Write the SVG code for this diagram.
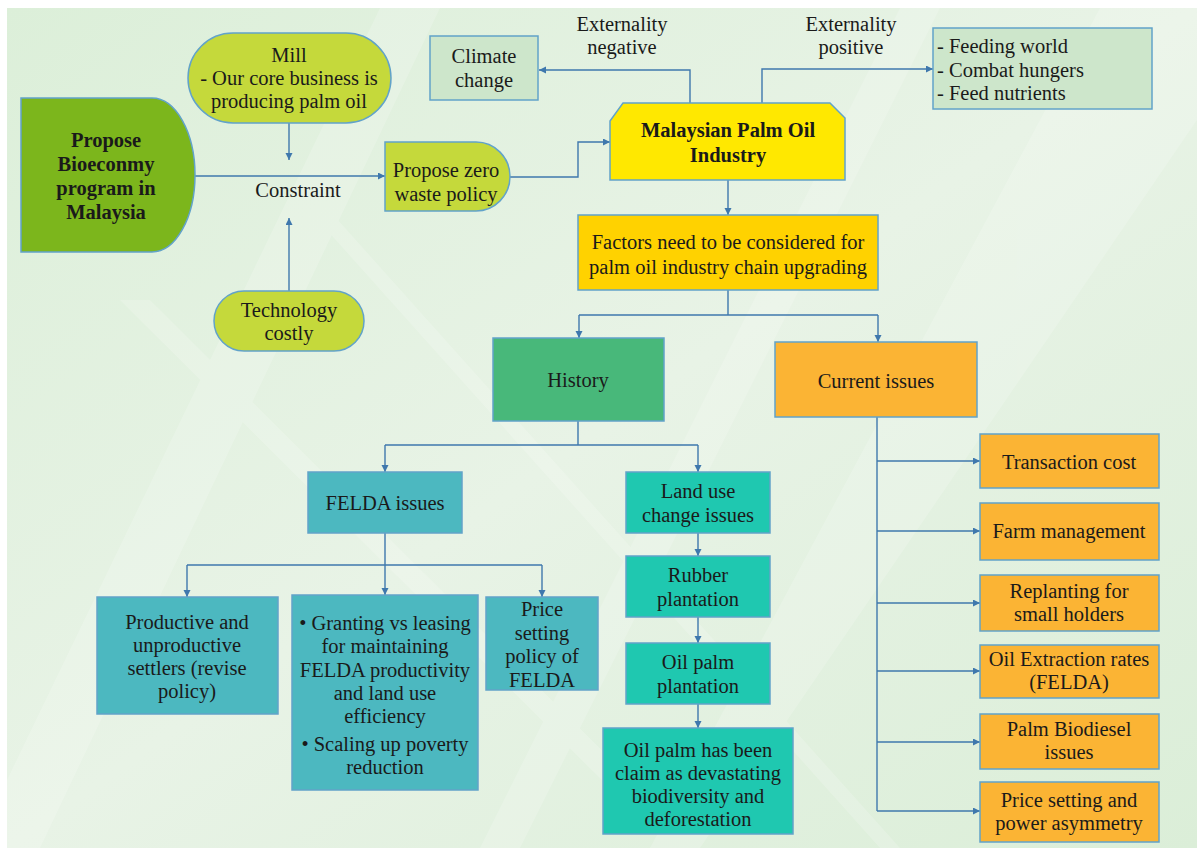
<svg xmlns="http://www.w3.org/2000/svg" width="1203" height="853" viewBox="0 0 1203 853">
<defs>
<linearGradient id="bg" x1="0" y1="0" x2="1" y2="1">
<stop offset="0" stop-color="#dcefd9"/>
<stop offset="0.5" stop-color="#e8f3e6"/>
<stop offset="1" stop-color="#dbeed8"/>
</linearGradient>
<marker id="ah" markerUnits="userSpaceOnUse" markerWidth="8" markerHeight="8" refX="7" refY="3.5" orient="auto">
<path d="M0,0 L7,3.5 L0,7 Z" fill="#3f78ad"/>
</marker>
<style>
.n{stroke:#62a3c9;stroke-width:1.5}
#conn path{fill:none;stroke:#3f78ad;stroke-width:1.4}
.ar{marker-end:url(#ah)}
.lime{fill:#c5d93b}
.teal{fill:#4cb8c0}
.turq{fill:#1fc8b0}
.orng{fill:#fbb434}
.pale{fill:#cde6cb}
</style>
</defs>
<rect x="0" y="0" width="1203" height="853" fill="#ffffff"/>
<rect x="7" y="8" width="1190" height="840" fill="url(#bg)"/>
<g opacity="0.18" fill="#ffffff">
<polygon points="380,8 440,8 40,848 7,848 7,780"/>
<polygon points="900,8 940,8 520,848 480,848"/>
<polygon points="1100,8 1197,8 1197,120 700,848 650,848"/>
<polygon points="120,300 150,300 700,848 670,848"/>
<polygon points="300,200 320,200 900,848 880,848"/>
</g>

<g id="conn">
<path class="ar" d="M195,176 H385"/>
<path class="ar" d="M289,123 V160"/>
<path class="ar" d="M289,291 V218"/>
<path class="ar" d="M510,177 H578 V142 H610"/>
<path class="ar" d="M690,103 V70 H539"/>
<path class="ar" d="M762,103 V69 H933"/>
<path class="ar" d="M728,180 V215"/>
<path d="M728,290 V315 M579,315 H878"/>
<path class="ar" d="M579,315 V338"/>
<path class="ar" d="M878,315 V342"/>
<path d="M578,421 V445 M385,445 H698"/>
<path class="ar" d="M385,445 V472"/>
<path class="ar" d="M698,445 V472"/>
<path class="ar" d="M698,533 V556"/>
<path class="ar" d="M698,617 V643"/>
<path class="ar" d="M698,704 V728"/>
<path d="M385,533 V565 M187,565 H542"/>
<path class="ar" d="M187,565 V597"/>
<path class="ar" d="M385,565 V595"/>
<path class="ar" d="M542,565 V597"/>
<path d="M877,417 V811"/>
<path class="ar" d="M877,461 H980"/>
<path class="ar" d="M877,531 H980"/>
<path class="ar" d="M877,603 H980"/>
<path class="ar" d="M877,671 H980"/>
<path class="ar" d="M877,742 H980"/>
<path class="ar" d="M877,811 H980"/>
</g>

<g font-size="20.5" fill="#1a1a1a" text-anchor="middle">
<g id="labels">
<text style="font-family:'Liberation Serif',serif" x="622" y="31">Externality</text>
<text style="font-family:'Liberation Serif',serif" x="622" y="54">negative</text>
<text style="font-family:'Liberation Serif',serif" x="851" y="31">Externality</text>
<text style="font-family:'Liberation Serif',serif" x="851" y="54">positive</text>
<text style="font-family:'Liberation Serif',serif" x="298" y="197">Constraint</text>
</g>

<g id="bioeconomy">
<path class="n" d="M21,98 H152 A43,77 0 0 1 152,252 H21 Z" fill="#7cb61c"/>
<text style="font-family:'Liberation Serif',serif" font-weight="bold" x="106" y="147">Propose</text>
<text style="font-family:'Liberation Serif',serif" font-weight="bold" x="106" y="171">Bioeconmy</text>
<text style="font-family:'Liberation Serif',serif" font-weight="bold" x="106" y="195">program in</text>
<text style="font-family:'Liberation Serif',serif" font-weight="bold" x="106" y="219">Malaysia</text>
</g>
<g id="mill">
<rect class="n lime" x="188" y="33" width="203" height="90" rx="45"/>
<text style="font-family:'Liberation Serif',serif" x="289" y="62">Mill</text>
<text style="font-family:'Liberation Serif',serif" x="289" y="85">- Our core business is</text>
<text style="font-family:'Liberation Serif',serif" x="289" y="108">producing palm oil</text>
</g>
<g id="technology">
<rect class="n lime" x="214" y="291" width="150" height="60" rx="30"/>
<text style="font-family:'Liberation Serif',serif" x="289" y="317">Technology</text>
<text style="font-family:'Liberation Serif',serif" x="289" y="340">costly</text>
</g>
<g id="zerowaste">
<path class="n lime" d="M385,142 H476 A34,34.5 0 0 1 476,211 H385 Z"/>
<text style="font-family:'Liberation Serif',serif" x="446" y="177">Propose zero</text>
<text style="font-family:'Liberation Serif',serif" x="446" y="201">waste policy</text>
</g>
<g id="malaysian">
<path class="n" d="M623,103 H830 L845,118 V180 H610 V121 Z" fill="#ffe800"/>
<text style="font-family:'Liberation Serif',serif" font-weight="bold" x="728" y="137">Malaysian Palm Oil</text>
<text style="font-family:'Liberation Serif',serif" font-weight="bold" x="728" y="162">Industry</text>
</g>
<g id="climate">
<rect class="n pale" x="430" y="36" width="108" height="64"/>
<text style="font-family:'Liberation Serif',serif" x="484" y="63">Climate</text>
<text style="font-family:'Liberation Serif',serif" x="484" y="87">change</text>
</g>
<g id="feeding">
<rect class="n pale" x="933" y="28" width="219" height="81"/>
<text style="font-family:'Liberation Serif',serif" text-anchor="start" x="937" y="53">- Feeding world</text>
<text style="font-family:'Liberation Serif',serif" text-anchor="start" x="937" y="77">- Combat hungers</text>
<text style="font-family:'Liberation Serif',serif" text-anchor="start" x="937" y="100">- Feed nutrients</text>
</g>
<g id="factors">
<rect class="n" x="578" y="215" width="300" height="75" fill="#ffd200"/>
<text style="font-family:'Liberation Serif',serif" x="728" y="249">Factors need to be considered for</text>
<text style="font-family:'Liberation Serif',serif" x="728" y="274">palm oil industry chain upgrading</text>
</g>
<g id="history">
<rect class="n" x="493" y="338" width="171" height="83" fill="#48b87a"/>
<text style="font-family:'Liberation Serif',serif" x="578" y="387">History</text>
</g>
<g id="current">
<rect class="n orng" x="775" y="342" width="202" height="75"/>
<text style="font-family:'Liberation Serif',serif" x="876" y="388">Current issues</text>
</g>
<g id="felda">
<rect class="n teal" x="308" y="472" width="154" height="61"/>
<text style="font-family:'Liberation Serif',serif" x="385" y="510">FELDA issues</text>
</g>
<g id="landuse">
<rect class="n turq" x="626" y="472" width="144" height="61"/>
<text style="font-family:'Liberation Serif',serif" x="698" y="498">Land use</text>
<text style="font-family:'Liberation Serif',serif" x="698" y="522">change issues</text>
</g>
<g id="rubber">
<rect class="n turq" x="626" y="556" width="144" height="61"/>
<text style="font-family:'Liberation Serif',serif" x="698" y="582">Rubber</text>
<text style="font-family:'Liberation Serif',serif" x="698" y="606">plantation</text>
</g>
<g id="oilpalm">
<rect class="n turq" x="626" y="643" width="144" height="61"/>
<text style="font-family:'Liberation Serif',serif" x="698" y="669">Oil palm</text>
<text style="font-family:'Liberation Serif',serif" x="698" y="693">plantation</text>
</g>
<g id="devastating">
<rect class="n turq" x="603" y="728" width="190" height="106"/>
<text style="font-family:'Liberation Serif',serif" x="698" y="757">Oil palm has been</text>
<text style="font-family:'Liberation Serif',serif" x="698" y="780">claim as devastating</text>
<text style="font-family:'Liberation Serif',serif" x="698" y="803">biodiversity and</text>
<text style="font-family:'Liberation Serif',serif" x="698" y="826">deforestation</text>
</g>
<g id="productive">
<rect class="n teal" x="97" y="597" width="181" height="117"/>
<text style="font-family:'Liberation Serif',serif" x="187" y="629">Productive and</text>
<text style="font-family:'Liberation Serif',serif" x="187" y="652">unproductive</text>
<text style="font-family:'Liberation Serif',serif" x="187" y="675">settlers (revise</text>
<text style="font-family:'Liberation Serif',serif" x="187" y="698">policy)</text>
</g>
<g id="granting">
<rect class="n teal" x="292" y="595" width="186" height="195"/>
<text style="font-family:'Liberation Serif',serif" x="385" y="630">• Granting vs leasing</text>
<text style="font-family:'Liberation Serif',serif" x="385" y="653">for maintaining</text>
<text style="font-family:'Liberation Serif',serif" x="385" y="677">FELDA productivity</text>
<text style="font-family:'Liberation Serif',serif" x="385" y="700">and land use</text>
<text style="font-family:'Liberation Serif',serif" x="385" y="723">efficiency</text>
<text style="font-family:'Liberation Serif',serif" x="385" y="751">• Scaling up poverty</text>
<text style="font-family:'Liberation Serif',serif" x="385" y="774">reduction</text>
</g>
<g id="pricefelda">
<rect class="n teal" x="486" y="597" width="112" height="93"/>
<text style="font-family:'Liberation Serif',serif" x="542" y="616">Price</text>
<text style="font-family:'Liberation Serif',serif" x="542" y="640">setting</text>
<text style="font-family:'Liberation Serif',serif" x="542" y="663">policy of</text>
<text style="font-family:'Liberation Serif',serif" x="542" y="687">FELDA</text>
</g>
<g id="transaction">
<rect class="n orng" x="980" y="434" width="179" height="54"/>
<text style="font-family:'Liberation Serif',serif" x="1069" y="469">Transaction cost</text>
</g>
<g id="farm">
<rect class="n orng" x="980" y="503" width="179" height="57"/>
<text style="font-family:'Liberation Serif',serif" x="1069" y="538">Farm management</text>
</g>
<g id="replanting">
<rect class="n orng" x="980" y="575" width="179" height="56"/>
<text style="font-family:'Liberation Serif',serif" x="1069" y="598">Replanting for</text>
<text style="font-family:'Liberation Serif',serif" x="1069" y="621">small holders</text>
</g>
<g id="extraction">
<rect class="n orng" x="980" y="645" width="179" height="53"/>
<text style="font-family:'Liberation Serif',serif" x="1069" y="666">Oil Extraction rates</text>
<text style="font-family:'Liberation Serif',serif" x="1069" y="689">(FELDA)</text>
</g>
<g id="biodiesel">
<rect class="n orng" x="980" y="714" width="179" height="55"/>
<text style="font-family:'Liberation Serif',serif" x="1069" y="736">Palm Biodiesel</text>
<text style="font-family:'Liberation Serif',serif" x="1069" y="759">issues</text>
</g>
<g id="pricepower">
<rect class="n orng" x="980" y="782" width="179" height="60"/>
<text style="font-family:'Liberation Serif',serif" x="1069" y="807">Price setting and</text>
<text style="font-family:'Liberation Serif',serif" x="1069" y="830">power asymmetry</text>
</g>
</g>
</svg>
